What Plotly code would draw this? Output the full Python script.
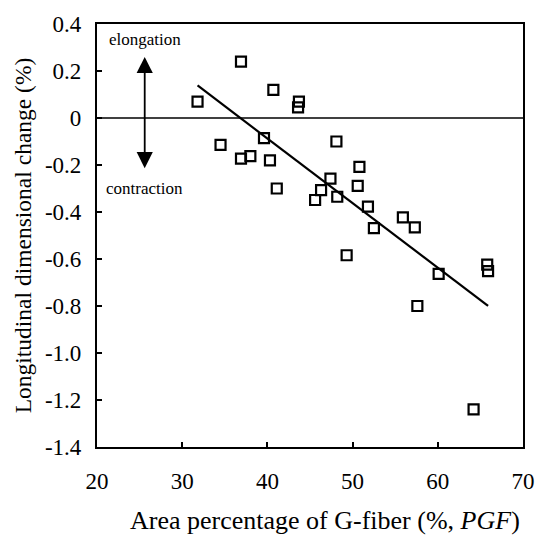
import numpy as np
import plotly.graph_objects as go

pgf = [31.8, 36.9, 40.7, 43.7, 43.6, 34.5, 39.6, 36.9, 38.0, 40.3, 41.1, 48.1, 47.4, 46.3,
       45.6, 48.2, 50.8, 50.6, 51.8, 52.5, 49.3, 55.9, 57.3, 60.1, 65.8, 65.9, 57.6, 64.2]
change = [0.07, 0.24, 0.12, 0.07, 0.045, -0.114, -0.086, -0.173, -0.162, -0.18, -0.30, -0.10, -0.258, -0.307,
          -0.349, -0.335, -0.208, -0.289, -0.377, -0.469, -0.584, -0.423, -0.465, -0.663, -0.624, -0.652, -0.80, -1.24]

x_ticks = [20, 30, 40, 50, 60, 70]
y_ticks = [0.4, 0.2, 0, -0.2, -0.4, -0.6, -0.8, -1.0, -1.2, -1.4]
y_tick_labels = ["0.4", "0.2", "0", "-0.2", "-0.4", "-0.6", "-0.8", "-1.0", "-1.2", "-1.4"]

slope, intercept = np.polyfit(pgf, change, 1)
fit_x = np.array([min(pgf), max(pgf)])
fit_y = slope * fit_x + intercept

FONT = "Liberation Serif, Times New Roman, serif"

fig = go.Figure()
fig.add_trace(go.Scatter(x=[20, 70], y=[0, 0], mode="lines",
                         line=dict(color="black", width=1.6), hoverinfo="skip"))
fig.add_trace(go.Scatter(x=fit_x, y=fit_y, mode="lines",
                         line=dict(color="black", width=2.2)))
fig.add_trace(go.Scatter(x=pgf, y=change, mode="markers",
                         marker=dict(symbol="square-open", size=10,
                                     color="black", line=dict(color="black", width=2.2))))

# double arrow
arrow_x = 25.6
fig.add_annotation(x=arrow_x, y=0.26, ax=arrow_x, ay=-0.22, xref="x", yref="y", axref="x", ayref="y",
                   showarrow=True, arrowhead=2, arrowside="end+start", arrowsize=1.8, arrowwidth=1.8,
                   arrowcolor="black", text="")
fig.add_annotation(x=arrow_x, y=0.335, text="elongation", showarrow=False,
                   font=dict(family=FONT, size=17, color="black"))
fig.add_annotation(x=arrow_x, y=-0.30, text="contraction", showarrow=False,
                   font=dict(family=FONT, size=17, color="black"))

# x-axis title
fig.add_annotation(x=0.535, y=-0.173, xref="paper", yref="paper", xanchor="center", yanchor="middle",
                   text="Area percentage of G-fiber (%, <i>PGF</i>)", showarrow=False,
                   font=dict(family=FONT, size=26, color="black"))

fig.update_layout(
    width=554, height=535,
    margin=dict(l=97, r=31, t=20, b=88),
    plot_bgcolor="white", paper_bgcolor="white",
    showlegend=False,
    font=dict(family=FONT, size=23, color="black"),
)
fig.update_xaxes(range=[20, 70], tickvals=x_ticks, ticks="inside", ticklen=5, tickwidth=2,
                 tickcolor="black", showline=True, linecolor="black", linewidth=2.2, mirror=True,
                 showgrid=False, zeroline=False, ticklabelstandoff=12,
                 tickfont=dict(family=FONT, size=23))
fig.update_yaxes(range=[-1.4, 0.4], tickvals=y_ticks, ticktext=y_tick_labels, ticks="inside", ticklen=5,
                 tickwidth=2, tickcolor="black", showline=True, linecolor="black", linewidth=2.2, mirror=True,
                 showgrid=False, zeroline=False, ticklabelstandoff=9,
                 title=dict(text="Longitudinal dimensional change (%)",
                            font=dict(family=FONT, size=23.5), standoff=7),
                 tickfont=dict(family=FONT, size=23))

fig.write_html("out.html")
